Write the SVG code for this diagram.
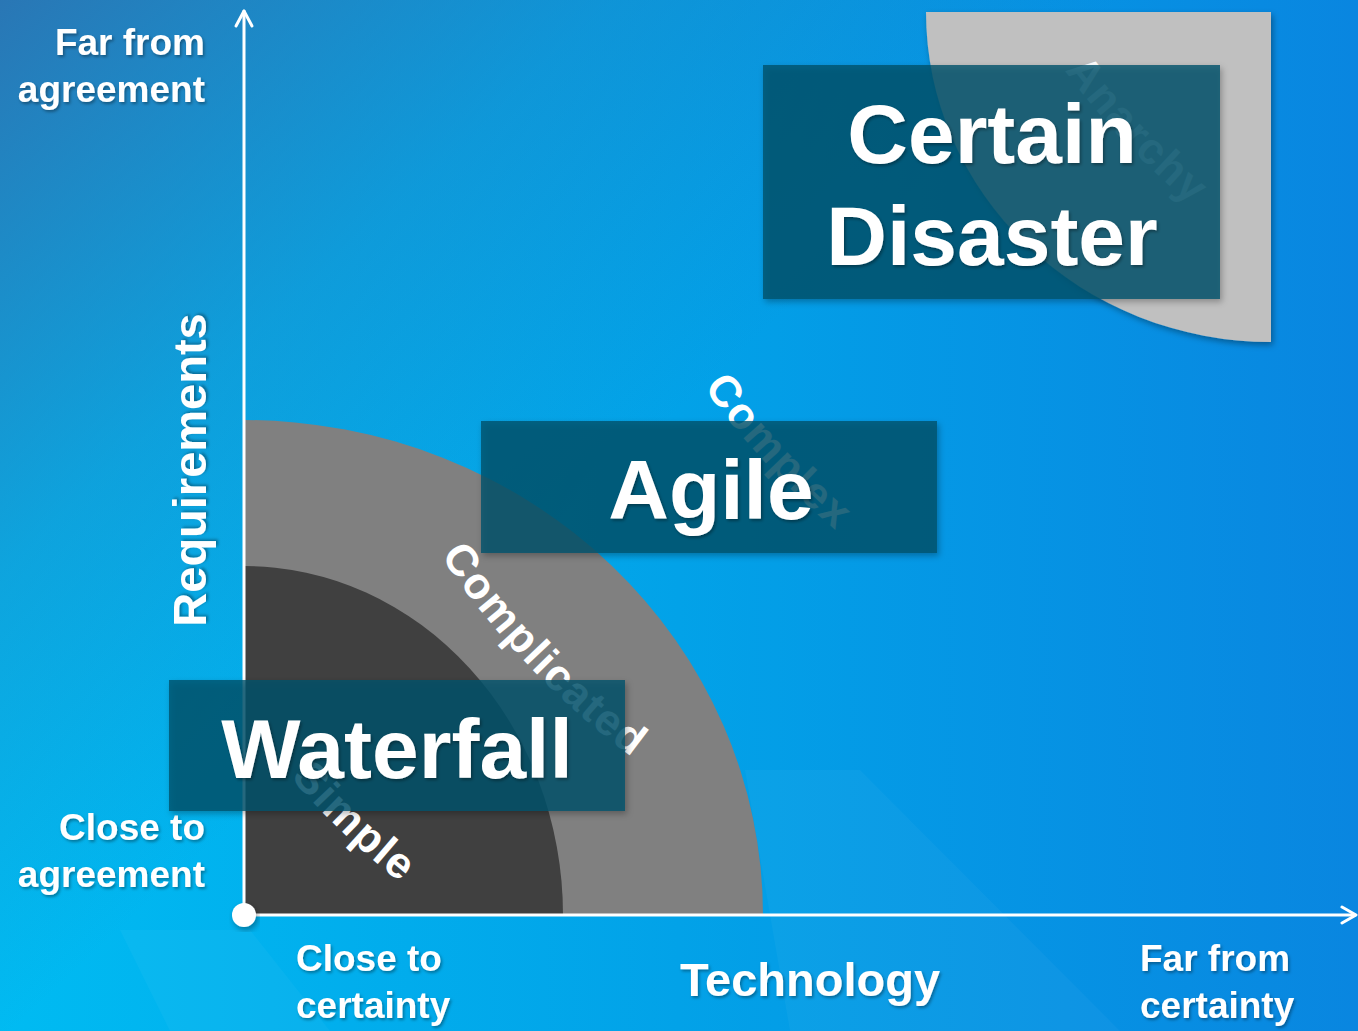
<svg xmlns="http://www.w3.org/2000/svg" width="1358" height="1031" viewBox="0 0 1358 1031">
  <defs>
    <linearGradient id="bg" x1="0" y1="0" x2="1358" y2="0" gradientUnits="userSpaceOnUse">
      <stop offset="0" stop-color="#00bbf2"/>
      <stop offset="0.5" stop-color="#02a2e8"/>
      <stop offset="1" stop-color="#0986e0"/>
    </linearGradient>
    <linearGradient id="tl" x1="0" y1="0" x2="520" y2="560" gradientUnits="userSpaceOnUse">
      <stop offset="0" stop-color="#2e6fae" stop-opacity="0.9"/>
      <stop offset="0.55" stop-color="#2e6fae" stop-opacity="0.3"/>
      <stop offset="1" stop-color="#2e6fae" stop-opacity="0"/>
    </linearGradient>
    <filter id="bs" x="-10%" y="-10%" width="125%" height="130%">
      <feDropShadow dx="2" dy="3" stdDeviation="3" flood-color="#000" flood-opacity="0.35"/>
    </filter>
    <filter id="ts" x="-10%" y="-10%" width="125%" height="130%">
      <feDropShadow dx="1.5" dy="2" stdDeviation="1.5" flood-color="#000" flood-opacity="0.35"/>
    </filter>
    <path id="pComplex" d="M703.7,387.1 A800,800 0 0,0 836.8,531"/>
    <path id="pComplicated" d="M440.7,555.5 A800,800 0 0,0 634.2,758.6"/>
    <path id="pSimple" d="M290.7,777.5 A800,800 0 0,0 401.3,883.2"/>
    <path id="pAnarchy" d="M1064.6,70.4 A800,800 0 0,0 1192.7,206"/>
  </defs>
  <style>
    text { font-family: "Liberation Sans", Arial, sans-serif; font-weight: bold; fill: #ffffff; }
    .axislbl { font-size: 37px; }
    .axisname { font-size: 47px; }
    .zone { font-size: 44px; letter-spacing: 1.5px; }
    .box { fill: #00526b; fill-opacity: 0.8; }
    .big { font-size: 84px; text-anchor: middle; }
    .axis { stroke: #ffffff; stroke-width: 3; fill: none; stroke-linecap: round; stroke-linejoin: round; }
  </style>

  <!-- background -->
  <rect x="0" y="0" width="1358" height="1031" fill="url(#bg)"/>
  <rect x="0" y="0" width="1358" height="1031" fill="url(#tl)"/>
  <polygon points="745,770 860,770 1120,1031 790,1031" fill="#ffffff" fill-opacity="0.035"/>
  <polygon points="120,930 250,930 330,1031 170,1031" fill="#ffffff" fill-opacity="0.035"/>

  <!-- zones -->
  <g id="zone-anarchy">
    <path d="M1271,12 L926,12 A345,330 0 0,0 1271,342 Z" fill="#c0c0c0" filter="url(#bs)"/>
    <text class="zone"><textPath href="#pAnarchy">Anarchy</textPath></text>
  </g>
  <g id="zone-complicated">
    <path d="M244,915 L244,420 A519,495 0 0,1 763,915 Z" fill="#808080"/>
  </g>
  <g id="zone-simple">
    <path d="M244,915 L244,566 A319,349 0 0,1 563,915 Z" fill="#404040"/>
  </g>
  <g id="zone-labels">
    <text class="zone"><textPath href="#pComplex">Complex</textPath></text>
    <text class="zone"><textPath href="#pComplicated">Complicated</textPath></text>
    <text class="zone"><textPath href="#pSimple">Simple</textPath></text>
  </g>

  <!-- connectors: axes -->
  <g id="axes">
    <line class="axis" x1="244" y1="915" x2="244" y2="11"/>
    <polyline class="axis" points="236,26 244,11 252,26"/>
    <line class="axis" x1="244" y1="915" x2="1355" y2="915"/>
    <polyline class="axis" points="1342,907 1356,915 1342,923"/>
    <circle cx="244" cy="915" r="12" fill="#ffffff" filter="url(#bs)"/>
  </g>

  <!-- axis labels -->
  <g id="label-far-agreement">
    <text class="axislbl" x="205" y="55" text-anchor="end" filter="url(#ts)">Far from</text>
    <text class="axislbl" x="205" y="102" text-anchor="end" filter="url(#ts)">agreement</text>
  </g>
  <g id="label-close-agreement">
    <text class="axislbl" x="205" y="840" text-anchor="end" filter="url(#ts)">Close to</text>
    <text class="axislbl" x="205" y="887" text-anchor="end" filter="url(#ts)">agreement</text>
  </g>
  <g id="label-requirements">
    <text class="axisname" transform="translate(206,470) rotate(-90)" text-anchor="middle" filter="url(#ts)">Requirements</text>
  </g>
  <g id="label-close-certainty">
    <text class="axislbl" x="296" y="971" filter="url(#ts)">Close to</text>
    <text class="axislbl" x="296" y="1018" filter="url(#ts)">certainty</text>
  </g>
  <g id="label-technology">
    <text class="axisname" x="810" y="996" text-anchor="middle" filter="url(#ts)">Technology</text>
  </g>
  <g id="label-far-certainty">
    <text class="axislbl" x="1140" y="971" filter="url(#ts)">Far from</text>
    <text class="axislbl" x="1140" y="1018" filter="url(#ts)">certainty</text>
  </g>

  <!-- method boxes -->
  <g id="node-certain-disaster">
    <rect class="box" x="763" y="65" width="457" height="234" filter="url(#bs)"/>
    <text class="big" x="992" y="163" filter="url(#ts)">Certain</text>
    <text class="big" x="992" y="265" filter="url(#ts)">Disaster</text>
  </g>
  <g id="node-agile">
    <rect class="box" x="481" y="421" width="456" height="132" filter="url(#bs)"/>
    <text class="big" x="711" y="519" filter="url(#ts)">Agile</text>
  </g>
  <g id="node-waterfall">
    <rect class="box" x="169" y="680" width="456" height="131" filter="url(#bs)"/>
    <text class="big" x="397" y="778" filter="url(#ts)">Waterfall</text>
  </g>
</svg>
